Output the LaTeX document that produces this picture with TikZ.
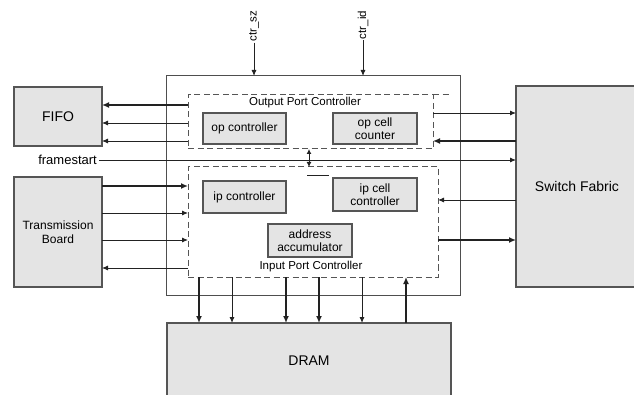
\documentclass[tikz,border=0pt]{standalone}
\usepackage{fontspec}
\setmainfont{Liberation Sans}
\usetikzlibrary{arrows.meta}
\definecolor{boxfill}{HTML}{E4E4E4}
\definecolor{boxline}{HTML}{555555}
\definecolor{wire}{HTML}{222222}
\tikzset{
  blk/.style={draw=boxline, fill=boxfill, line width=1.2pt, inner sep=0pt, outer sep=0pt, anchor=north west, align=center},
  dashbox/.style={draw=boxline, line width=1pt, dash pattern=on 6pt off 3.5pt, inner sep=0pt, outer sep=0pt, anchor=north west},
  mainbox/.style={draw=wire!80, line width=1pt, inner sep=0pt, outer sep=0pt, anchor=north west},
  thin/.style={draw=wire, line width=0.9pt, -{Latex[length=6pt,width=5pt]}},
  thick/.style={draw=wire, line width=1.7pt, -{Latex[length=7pt,width=6pt]}},
  dbl/.style={draw=wire, line width=1pt, {Latex[length=5pt,width=5pt]}-{Latex[length=5pt,width=5pt]}},
  lbl/.style={font=\fontsize{11.5}{13}\selectfont, inner sep=1pt},
  small/.style={font=\fontsize{12}{13.5}\selectfont},
  big/.style={font=\fontsize{14}{16}\selectfont},
}
\begin{document}
\begin{tikzpicture}[x=1pt,y=-1pt]
\useasboundingbox (0,0) rectangle (634,395);
% main box
\node[mainbox, minimum width=294pt, minimum height=219pt] (main) at (166,76) {};
% outer blocks
\node[blk, big, minimum width=88pt, minimum height=59pt] (fifo) at (14,87) {FIFO};
\node[blk, small, minimum width=88pt, minimum height=110pt] (tb) at (14,177) {Transmission\\Board};
\node[blk, big, minimum width=122pt, minimum height=201pt] (sf) at (516,86) {Switch Fabric};
\node[blk, big, minimum width=284pt, minimum height=76pt] (dram) at (167,323) {DRAM};
% controllers
\node[dashbox, minimum width=245pt, minimum height=54pt] (opc) at (188,95) {};
\draw[boxline, line width=1pt, dash pattern=on 6pt off 3.5pt] (opc.north east) -- ++(17,0) coordinate (opext);
\node[dashbox, minimum width=250pt, minimum height=110pt] (ipc) at (188,167) {};
\node[lbl] (opclbl) at (305,103) {Output Port Controller};
\node[lbl] (ipclbl) at (311,267) {Input Port Controller};
% inner blocks
\node[blk, small, minimum width=83pt, minimum height=31pt] (opctl) at (203,113) {op controller};
\node[blk, small, minimum width=84pt, minimum height=31pt, font=\fontsize{12}{12.5}\selectfont] (opcc) at (333,113) {op cell\\counter};
\node[blk, small, minimum width=83pt, minimum height=32pt] (ipctl) at (203,181) {ip controller};
\node[blk, small, minimum width=84pt, minimum height=33pt, font=\fontsize{12}{12.5}\selectfont] (ipcc) at (333,178) {ip cell\\controller};
\node[blk, small, minimum width=84pt, minimum height=33pt, font=\fontsize{12}{12.5}\selectfont] (addr) at (268,224) {address\\accumulator};
% control inputs
\node[lbl, rotate=90] (csz) at (254,26) {ctr\_sz};
\node[lbl, rotate=90] (cid) at (363,25) {ctr\_id};
\draw[thin] (csz.west) -- (csz.west |- main.north);
\draw[thin] (cid.west) -- (cid.west |- main.north);
% framestart
\node[big, font=\fontsize{13}{15}\selectfont, anchor=east, inner sep=2pt] (fs) at (99,160) {framestart};
\draw[thin] (fs.east) -- (fs.east -| sf.west);
% FIFO connections
\draw[thick] (opc.west |- 0,105) -- (fifo.east |- 0,105);
\draw[thin] (opc.west |- 0,123) -- (fifo.east |- 0,123);
\draw[thin] (opc.west |- 0,141) -- (fifo.east |- 0,141);
% Transmission board connections
\draw[thick] (tb.east |- 0,186) -- (ipc.west |- 0,186);
\draw[thin] (tb.east |- 0,213) -- (ipc.west |- 0,213);
\draw[thin] (tb.east |- 0,240) -- (ipc.west |- 0,240);
\draw[thin] (ipc.west |- 0,268) -- (tb.east |- 0,268);
% Switch fabric connections
\draw[thin] (opc.east |- 0,113) -- (sf.west |- 0,113);
\draw[thick] (sf.west |- 0,141) -- (opc.east |- 0,141);
\draw[thin] (sf.west |- 0,200) -- (ipc.east |- 0,200);
\draw[thick] (ipc.east |- 0,240) -- (sf.west |- 0,240);
% between controllers
\draw[dbl] (309,0 |- opc.south) -- (309,0 |- ipc.north);
\draw[wire, line width=1pt] (307,176) -- (329,176);
% DRAM connections
\draw[thick] (199,0 |- ipc.south) -- (199,0 |- dram.north);
\draw[thin] (232,0 |- ipc.south) -- (232,0 |- dram.north);
\draw[thick] (286,0 |- ipc.south) -- (286,0 |- dram.north);
\draw[thick] (319,0 |- ipc.south) -- (319,0 |- dram.north);
\draw[thin] (362,0 |- ipc.south) -- (362,0 |- dram.north);
\draw[thick] (406,0 |- dram.north) -- (406,0 |- ipc.south);
\end{tikzpicture}
\end{document}
